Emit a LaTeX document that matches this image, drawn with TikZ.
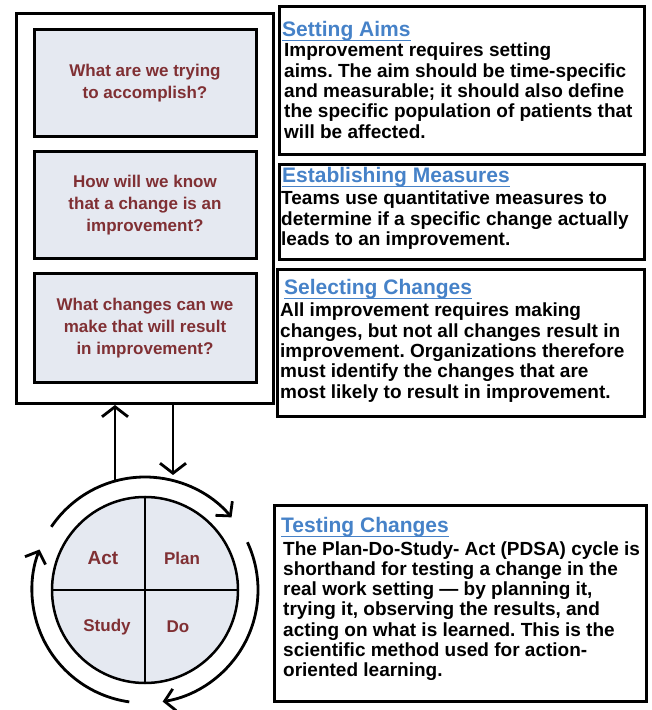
\documentclass[tikz,border=0pt]{standalone}
\usepackage{fontspec}
\setmainfont{Liberation Sans}
\usetikzlibrary{arrows.meta,calc}
\definecolor{qred}{RGB}{128,48,52}
\definecolor{qfill}{RGB}{229,233,241}
\definecolor{hblue}{RGB}{70,130,200}
\frenchspacing

\begin{document}
\begin{tikzpicture}[x=1pt,y=1pt,
  outerframe/.style={draw,line width=3pt,minimum width=257,minimum height=390,anchor=north west},
  qbox/.style={draw,line width=3pt,fill=qfill,minimum width=222,align=center,text=qred,
    font=\bfseries\fontsize{17}{22}\selectfont},
  infobox/.style={draw,line width=3pt,anchor=north west},
  headtxt/.style={anchor=base west,inner sep=0pt,text=hblue,font=\bfseries\fontsize{21}{24}\selectfont},
  bodytxt/.style={anchor=base west,inner sep=0pt,align=left,font=\bfseries\fontsize{19}{20.3}\selectfont},
  headline/.style={hblue,line width=1.8pt},
  pdsa/.style={text=qred,font=\bfseries\fontsize{17}{20}\selectfont},
  cyclearrow/.style={line width=2.8pt,-{Straight Barb[length=10pt,width=22pt]}}
]
\useasboundingbox (0,0) rectangle (652,710);
% model for improvement
\node[outerframe] (qframe) at (15,698) {};
\node[qbox,minimum height=107] (aim) at (145,626.5) {What are we trying\\to accomplish?};
\node[qbox,minimum height=107] (know) at (145,504.5) {How will we know\\that a change is an\\improvement?};
\node[qbox,minimum height=109] (make) at (145,381.5) {What changes can we\\make that will result\\in improvement?};

% explanations
\node[infobox,minimum width=365,minimum height=148] (boxA) at (278,705) {};
\node[infobox,minimum width=365,minimum height=95] (boxB) at (278,547) {};
\node[infobox,minimum width=367,minimum height=147] (boxC) at (276,442) {};
\node[infobox,minimum width=372,minimum height=196] (boxD) at (273,206) {};

\node[headtxt] (hA) at (282,673) {Setting Aims};
\node[headtxt] (hB) at (282,527) {Establishing Measures};
\node[headtxt] (hC) at (284,415) {Selecting Changes};
\node[headtxt] (hD) at (281,177) {Testing Changes};
\foreach \h in {hA,hB,hC,hD}
  \draw[headline] ([yshift=-3.5pt]\h.base west) -- ([yshift=-3.5pt]\h.base east);

% base of each text = baseline of its last line
\node[bodytxt] (tA) at (284,571.8) {Improvement requires setting\\aims. The aim should be time-specific\\and measurable; it should also define\\the specific population of patients that\\will be affected.};
\node[bodytxt] (tB) at (281,464.4) {Teams use quantitative measures to\\determine if a specific change actually\\leads to an improvement.};
\node[bodytxt] (tC) at (280,311.8) {All improvement requires making\\changes, but not all changes result in\\improvement. Organizations therefore\\must identify the changes that are\\most likely to result in improvement.};
\node[bodytxt] (tD) at (283,33.2) {The Plan-Do-Study- Act (PDSA) cycle is\\shorthand for testing a change in the\\real work setting — by planning it,\\trying it, observing the results, and\\acting on what is learned. This is the\\scientific method used for action-\\oriented learning.};

% PDSA cycle
\node[circle,draw,line width=2.5pt,fill=qfill,minimum size=186] (cyc) at (145,120) {};
\draw[line width=2.5pt] (cyc.north) -- (cyc.south);
\draw[line width=2.5pt] (cyc.west) -- (cyc.east);
\node[pdsa,font=\bfseries\fontsize{19}{20}\selectfont] (act) at (103,152) {Act};
\node[pdsa] (plan) at (182,152) {Plan};
\node[pdsa] (study) at (107,83) {Study};
\node[pdsa] (do) at (178,83) {Do};

\draw[cyclearrow] ($(cyc)+(146:113)$) arc[start angle=146,end angle=40,radius=113];
\draw[cyclearrow] ($(cyc)+(25:113)$) arc[start angle=25,end angle=-81,radius=113];
\draw[cyclearrow] ($(cyc)+(-98:113)$) arc[start angle=-98,end angle=-201,radius=113];

\coordinate (actout) at ($(cyc)+(105.4:113)$);
\coordinate (planin) at (173,235);
\draw[line width=2.8pt,-{Straight Barb[length=10pt,width=26pt]}] (actout) -- (actout |- qframe.south);
\draw[line width=2.8pt,-{Straight Barb[length=10pt,width=26pt]}] (planin |- qframe.south) -- (planin);
\end{tikzpicture}
\end{document}
